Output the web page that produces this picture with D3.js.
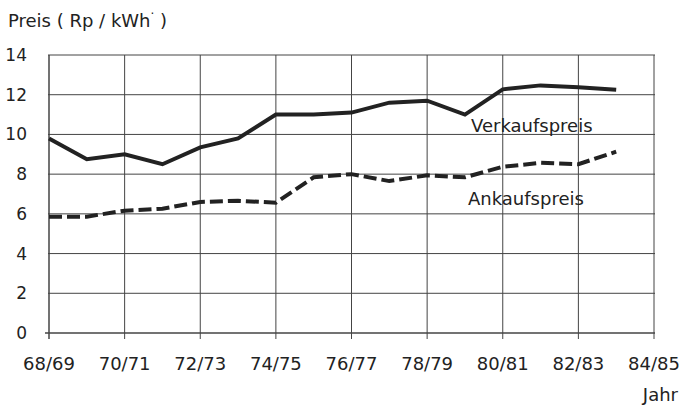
<!DOCTYPE html>
<html><head><meta charset="utf-8">
<script src="https://cdn.jsdelivr.net/npm/d3@7"></script>
<style>
body{margin:0;background:#fff;}
text{font-family:"DejaVu Sans",sans-serif;fill:#222;}
</style></head>
<body>
<svg id="c" width="682" height="405"></svg>
<script>
const years = ["68/69","69/70","70/71","71/72","72/73","73/74","74/75","75/76","76/77","77/78","78/79","79/80","80/81","81/82","82/83","83/84"];
const verkaufspreis = [9.8,8.75,9.0,8.5,9.35,9.8,11.0,11.0,11.1,11.6,11.7,11.0,12.27,12.47,12.37,12.25];
const ankaufspreis = [5.86,5.86,6.16,6.26,6.6,6.66,6.56,7.84,8.0,7.65,7.94,7.84,8.37,8.57,8.5,9.13];
const xTickLabels = ["68/69","70/71","72/73","74/75","76/77","78/79","80/81","82/83","84/85"];
const yTicks = [0,2,4,6,8,10,12,14];

const svg = d3.select("#c");
const x = d3.scaleLinear().domain([0,16]).range([49,654]);
const y = d3.scaleLinear().domain([0,14]).range([333,55]);
const gridColor = "#444";

// horizontal gridlines
svg.append("g").selectAll("line").data(yTicks).join("line")
  .attr("x1", d => d===0 ? 45 : 48).attr("x2", 655)
  .attr("y1", d => y(d)).attr("y2", d => y(d))
  .attr("stroke", gridColor).attr("stroke-width", d => d===0 ? 1.5 : 1);

// vertical gridlines
svg.append("g").selectAll("line").data(xTickLabels).join("line")
  .attr("x1", (d,i) => x(i*2)).attr("x2", (d,i) => x(i*2))
  .attr("y1", y(14)).attr("y2", y(0)+6)
  .attr("stroke", gridColor).attr("stroke-width", (d,i) => i===0 ? 1.5 : 1);

// y labels
svg.append("g").selectAll("text").data(yTicks).join("text")
  .attr("x", 27).attr("y", d => y(d)+6)
  .attr("text-anchor","end").attr("font-size", 17)
  .text(d => d);

// x labels
svg.append("g").selectAll("text").data(xTickLabels).join("text")
  .attr("x", (d,i) => x(i*2)).attr("y", 370)
  .attr("text-anchor","middle").attr("font-size", 18)
  .text(d => d);

const line = d3.line().x((d,i) => x(i)).y(d => y(d));

svg.append("path").datum(verkaufspreis).attr("d", line)
  .attr("fill","none").attr("stroke","#222").attr("stroke-width",4).attr("stroke-linejoin","miter");

svg.append("path").datum(ankaufspreis).attr("d", line)
  .attr("fill","none").attr("stroke","#222").attr("stroke-width",4)
  .attr("stroke-dasharray","13,5");

// series labels
svg.append("text").attr("x", 471).attr("y", 132).attr("font-size", 18).text("Verkaufspreis");
svg.append("text").attr("x", 468).attr("y", 205).attr("font-size", 18).text("Ankaufspreis");

// title
const t = svg.append("text").attr("x", 8).attr("y", 27).attr("font-size", 18);
t.append("tspan").text("Preis ( Rp / kWh");
t.append("tspan").attr("dy", -9).attr("font-size", 12).text("·");
t.append("tspan").attr("dy", 9).text(" )");

// axis name
svg.append("text").attr("x", 678).attr("y", 401).attr("text-anchor","end").attr("font-size", 18).text("Jahr");
</script>
</body></html>
